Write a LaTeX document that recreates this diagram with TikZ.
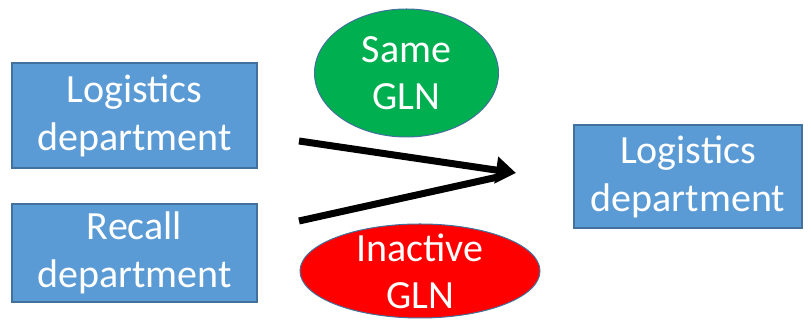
\documentclass[tikz,border=0pt]{standalone}
\usepackage{fontspec}
\setmainfont{Carlito}
\usetikzlibrary{shapes.geometric,arrows.meta,calc}
\definecolor{boxblue}{HTML}{5B9BD5}
\definecolor{boxedge}{HTML}{41719C}
\definecolor{ggreen}{HTML}{00B050}
\definecolor{rred}{HTML}{FF0000}
\tikzset{
  dept/.style={draw=boxedge, line width=1.2pt, fill=boxblue, text=white, align=center,
    font=\fontsize{40}{48}\selectfont, inner sep=0pt},
  gln/.style={ellipse, draw=boxedge, line width=1pt, text=white, align=center,
    font=\fontsize{40}{47}\selectfont, inner sep=-30pt},
  bigarrow/.style={line width=7pt, -{Triangle[length=20pt,width=26pt]}}
}
\begin{document}
\begin{tikzpicture}[x=1pt,y=1pt]
\useasboundingbox (0,0) rectangle (811,320);
\node[dept, minimum width=245pt, minimum height=105pt] (log1) at (134.5,204.5) {Logistics\\department};
\node[dept, minimum width=245pt, minimum height=98pt] (rec) at (134.5,67) {Recall\\department};
\node[dept, minimum width=228pt, minimum height=103pt] (log2) at (688,143.5) {Logistics\\department};
\node[gln, fill=ggreen, minimum width=184pt, minimum height=128pt] (same) at (406.5,247) {Same\\GLN};
\node[gln, fill=rred, minimum width=240pt, minimum height=94pt] (inact) at (420,49) {Inactive\\GLN};
\coordinate (a1) at (299,179);
\coordinate (a2) at (299,99);
\coordinate (tip) at (516,147);
\draw[line width=7pt] (a2) -- ($(a2)!0.93!(tip)$);
\draw[bigarrow] (a1) -- (tip);
\end{tikzpicture}
\end{document}
